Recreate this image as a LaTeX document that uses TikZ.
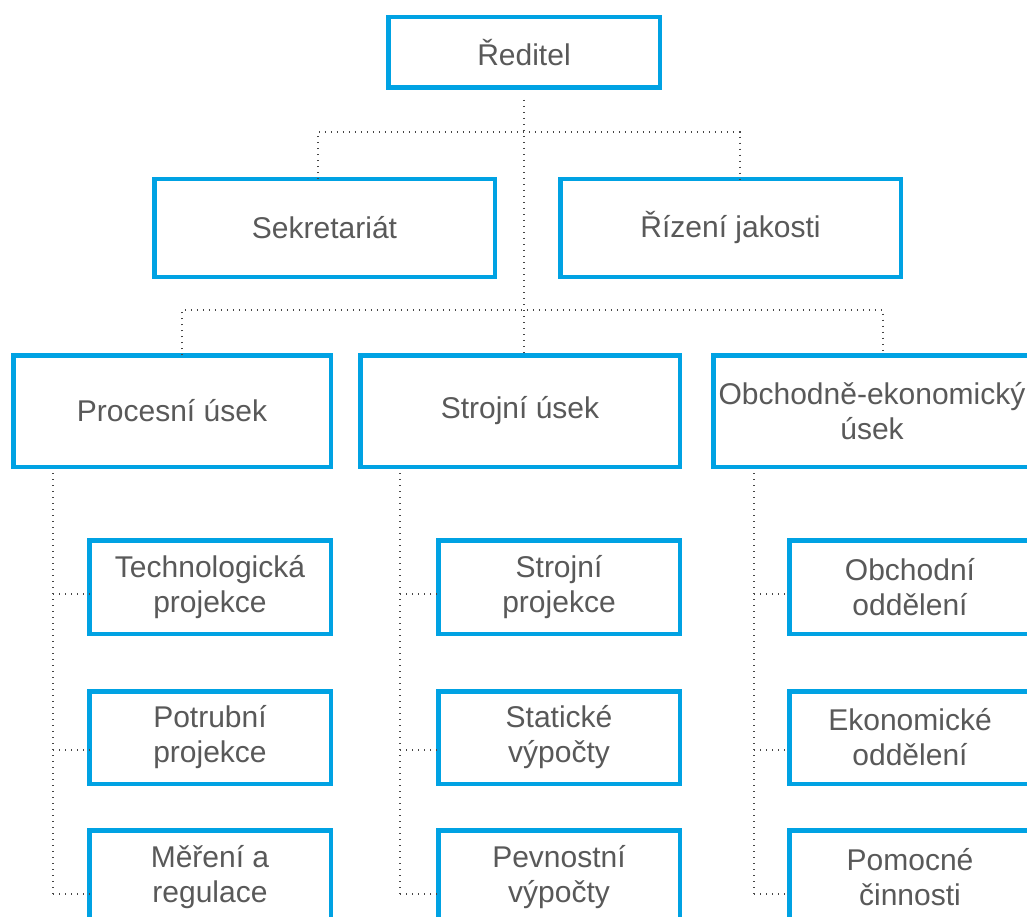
\documentclass[tikz,border=0pt]{standalone}
\usepackage{fontspec}
\setmainfont{Liberation Sans}
\definecolor{boxblue}{RGB}{0,162,227}
\definecolor{txtgray}{RGB}{89,89,89}
\definecolor{dotgray}{RGB}{70,70,70}
\tikzset{
  orgbox/.style={draw=boxblue, line width=4.5pt, inner sep=0pt, outer sep=0pt,
    align=center, text=txtgray, font=\fontsize{30}{35}\selectfont, fill=white},
  conn/.style={draw=dotgray, line width=1.4pt, dash pattern=on 1.4pt off 4.6pt},
}
\begin{document}
\begin{tikzpicture}[x=1pt,y=-1pt]
\useasboundingbox (0,0) rectangle (1027,917);
\clip (0,0) rectangle (1027,917);
% top levels
\node[orgbox, minimum width=271.5pt, minimum height=70.5pt] (redi) at (524,52.5) {Ředitel};
\node[orgbox, minimum width=340.5pt, minimum height=97.5pt] (sek) at (324.5,228) {Sekretariát};
\node[orgbox, minimum width=340.5pt, minimum height=97.5pt] (riz) at (730.5,228) {Řízení jakosti};
\node[orgbox, minimum width=317.5pt, minimum height=111.5pt] (proc) at (172,411) {Procesní úsek};
\node[orgbox, minimum width=319.5pt, minimum height=111.5pt] (stro) at (520,411) {Strojní úsek};
\node[orgbox, minimum width=317.5pt, minimum height=111.5pt] (obch) at (872,411) {Obchodně-ekonomický\\úsek};
% sub boxes
\node[orgbox, minimum width=241.5pt, minimum height=93.5pt] (tech) at (210,587) {Technologická\\projekce};
\node[orgbox, minimum width=241.5pt, minimum height=92.5pt] (potr) at (210,737.5) {Potrubní\\projekce};
\node[orgbox, minimum width=241.5pt, minimum height=93.5pt] (mere) at (210,877) {Měření a\\regulace};
\node[orgbox, minimum width=241.5pt, minimum height=93.5pt] (sproj) at (559,587) {Strojní\\projekce};
\node[orgbox, minimum width=241.5pt, minimum height=92.5pt] (stat) at (559,737.5) {Statické\\výpočty};
\node[orgbox, minimum width=241.5pt, minimum height=93.5pt] (pevn) at (559,877) {Pevnostní\\výpočty};
\node[orgbox, minimum width=241.5pt, minimum height=93.5pt] (obod) at (910,587) {Obchodní\\oddělení};
\node[orgbox, minimum width=241.5pt, minimum height=92.5pt] (ekod) at (910,737.5) {Ekonomické\\oddělení};
\node[orgbox, minimum width=241.5pt, minimum height=93.5pt] (pomc) at (910,877) {Pomocné\\činnosti};
% connectors
\coordinate (r0) at (524,100);
\coordinate (h1L) at (318,132);
\coordinate (h1R) at (740,132);
\coordinate (h2L) at (182,310);
\coordinate (h2R) at (883,310);
\draw[conn] (r0) -- (r0 |- stro.north);
\draw[conn] (h1L |- sek.north) -- (h1L) -- (h1R) -- (h1R |- riz.north);
\draw[conn] (h2L |- proc.north) -- (h2L) -- (h2R) -- (h2R |- obch.north);
% sub-trees
\coordinate (v1) at (53,473);
\coordinate (v2) at (400,473);
\coordinate (v3) at (754,473);
\coordinate (a1) at (53,594);  \coordinate (a2) at (53,750);  \coordinate (a3) at (53,894);
\coordinate (b1) at (400,594); \coordinate (b2) at (400,750); \coordinate (b3) at (400,894);
\coordinate (c1) at (754,594); \coordinate (c2) at (754,750); \coordinate (c3) at (754,894);
\draw[conn] (v1) -- (a3);
\draw[conn] (v2) -- (b3);
\draw[conn] (v3) -- (c3);
\draw[conn] (a1) -- (a1 -| tech.west);
\draw[conn] (a2) -- (a2 -| potr.west);
\draw[conn] (a3) -- (a3 -| mere.west);
\draw[conn] (b1) -- (b1 -| sproj.west);
\draw[conn] (b2) -- (b2 -| stat.west);
\draw[conn] (b3) -- (b3 -| pevn.west);
\draw[conn] (c1) -- (c1 -| obod.west);
\draw[conn] (c2) -- (c2 -| ekod.west);
\draw[conn] (c3) -- (c3 -| pomc.west);
\end{tikzpicture}
\end{document}
